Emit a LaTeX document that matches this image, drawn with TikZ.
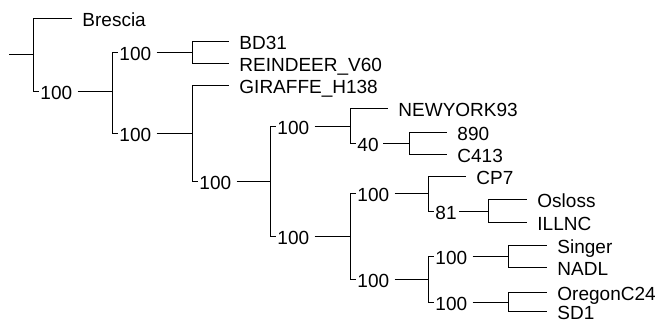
\documentclass[tikz,border=0pt]{standalone}
\usepackage{fontspec}
\setmainfont{Liberation Sans}
\usetikzlibrary{calc,positioning}
\tikzset{taxon/.style={anchor=west, inner xsep=10pt, inner ysep=0pt, text height=17pt, text depth=0pt}}
\tikzstyle{boot}=[taxon, inner xsep=1pt]

\begin{document}
\begin{tikzpicture}[x=1pt, y=-1pt, line width=0.9pt, font=\fontsize{19}{22}\selectfont]
\useasboundingbox (0,0) rectangle (655,321);
% inner nodes of the tree
\coordinate (S) at (9,54);
\coordinate (N0) at (33,54);
\coordinate (N1) at (112,91);
\coordinate (N2) at (192,52);
\coordinate (N3) at (192,133);
\coordinate (N4) at (270,181);
\coordinate (N5) at (350,126);
\coordinate (N6) at (409,143);
\coordinate (N7) at (350,236);
\coordinate (N8) at (428,193);
\coordinate (N9) at (488,211);
\coordinate (N10) at (428,279);
\coordinate (N11) at (508,256);
\coordinate (N12) at (508,302);
% bootstrap values
\node[boot] (B1) at (39,91) {100};
\node[boot] (B2) at (118,52) {100};
\node[boot] (B3) at (118,133) {100};
\node[boot] (B4) at (198,181) {100};
\node[boot] (B5) at (276,126) {100};
\node[boot] (B6) at (356,143) {40};
\node[boot] (B7) at (276,236) {100};
\node[boot] (B8) at (356,193) {100};
\node[boot] (B9) at (434,211) {81};
\node[boot] (B10) at (356,279) {100};
\node[boot] (B11) at (434,256) {100};
\node[boot] (B12) at (434,302) {100};
% taxa
\node[taxon] (T1) at (72,18) {Brescia};
\node[taxon] (T2) at (229,41) {BD31};
\node[taxon] (T3) at (229,63) {REINDEER\_V60};
\node[taxon] (T4) at (229,85) {GIRAFFE\_H138};
\node[taxon] (T5) at (388,108) {NEWYORK93};
\node[taxon] (T6) at (447,132) {890};
\node[taxon] (T7) at (447,154) {C413};
\node[taxon] (T8) at (466,176) {CP7};
\node[taxon] (T9) at (527,199) {Osloss};
\node[taxon] (T10) at (527,222) {ILLNC};
\node[taxon] (T11) at (547,245) {Singer};
\node[taxon] (T12) at (547,267) {NADL};
\node[taxon] (T13) at (547,292) {OregonC24};
\node[taxon] (T14) at (547,311) {SD1};
% branches
\draw (S) -- (N0);
\draw (N0) |- (T1.west);
\draw (N0) |- (B1.west);
\draw[shorten <=4pt] (B1.east) -- (N1);
\draw (N1) |- (B2.west);
\draw[shorten <=4pt] (B2.east) -- (N2);
\draw (N1) |- (B3.west);
\draw[shorten <=4pt] (B3.east) -- (N3);
\draw (N2) |- (T2.west);
\draw (N2) |- (T3.west);
\draw (N3) |- (T4.west);
\draw (N3) |- (B4.west);
\draw[shorten <=4pt] (B4.east) -- (N4);
\draw (N4) |- (B5.west);
\draw[shorten <=4pt] (B5.east) -- (N5);
\draw (N4) |- (B7.west);
\draw[shorten <=4pt] (B7.east) -- (N7);
\draw (N5) |- (T5.west);
\draw (N5) |- (B6.west);
\draw[shorten <=3pt] (B6.east) -- (N6);
\draw (N6) |- (T6.west);
\draw (N6) |- (T7.west);
\draw (N7) |- (B8.west);
\draw[shorten <=4pt] (B8.east) -- (N8);
\draw (N7) |- (B10.west);
\draw[shorten <=4pt] (B10.east) -- (N10);
\draw (N8) |- (T8.west);
\draw (N8) |- (B9.west);
\draw[shorten <=1pt] (B9.east) -- (N9);
\draw (N9) |- (T9.west);
\draw (N9) |- (T10.west);
\draw (N10) |- (B11.west);
\draw[shorten <=4pt] (B11.east) -- (N11);
\draw (N10) |- (B12.west);
\draw[shorten <=4pt] (B12.east) -- (N12);
\draw (N11) |- (T11.west);
\draw (N11) |- (T12.west);
\draw (N12) |- (T13.west);
\draw (N12) |- (T14.west);
\end{tikzpicture}
\end{document}
